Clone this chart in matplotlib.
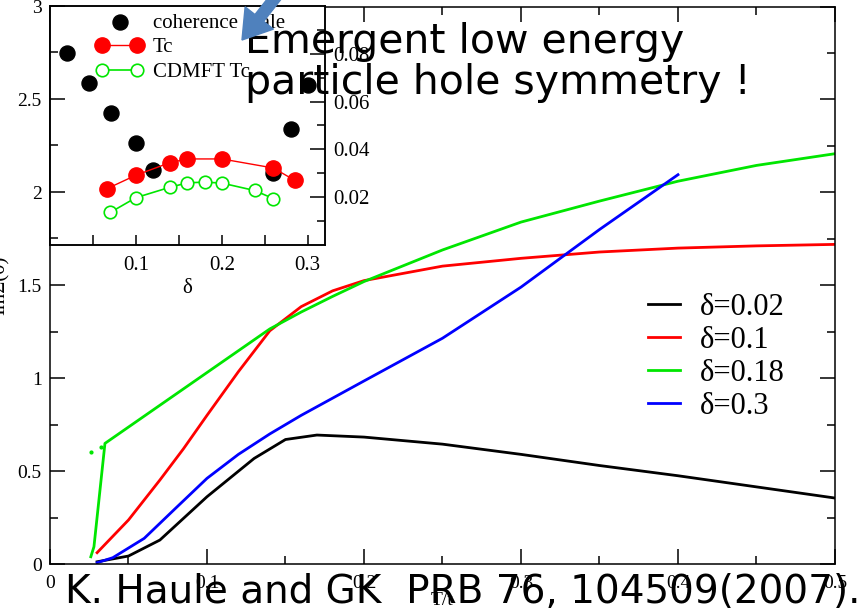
# Im Sigma(0) versus temperature for several dopings, with Tc / coherence scale inset.

import matplotlib.pyplot as plt
from matplotlib.ticker import MultipleLocator, FixedLocator, FuncFormatter
from matplotlib.patches import FancyArrow

# Main panel: ImSigma(0) vs T/t for each doping
T_002 = [0.03, 0.05, 0.07, 0.10, 0.13, 0.15, 0.17, 0.20, 0.25, 0.30, 0.35, 0.40, 0.45, 0.50]
S_002 = [0.012, 0.043, 0.129, 0.362, 0.568, 0.670, 0.694, 0.683, 0.645, 0.590, 0.530, 0.475, 0.415, 0.355]

T_01 = [0.03, 0.05, 0.07, 0.085, 0.10, 0.12, 0.14, 0.16, 0.18, 0.20, 0.25, 0.30, 0.35, 0.40, 0.45, 0.50]
S_01 = [0.061, 0.237, 0.452, 0.62, 0.80, 1.035, 1.255, 1.385, 1.47, 1.525, 1.603, 1.645, 1.679, 1.70, 1.712, 1.72]

T_018 = [0.026, 0.028, 0.035, 0.14, 0.16, 0.18, 0.20, 0.25, 0.30, 0.35, 0.40, 0.45, 0.50]
S_018 = [0.039, 0.093, 0.649, 1.265, 1.356, 1.44, 1.52, 1.69, 1.84, 1.953, 2.06, 2.145, 2.208]
T_018_dots = [0.026, 0.0323]
S_018_dots = [0.604, 0.631]

T_03 = [0.03, 0.04, 0.06, 0.08, 0.10, 0.12, 0.14, 0.16, 0.20, 0.25, 0.30, 0.35, 0.40]
S_03 = [0.007, 0.034, 0.138, 0.30, 0.461, 0.59, 0.70, 0.80, 0.985, 1.215, 1.49, 1.80, 2.095]

# Inset: coherence scale and Tc vs doping
delta_coh = [0.02, 0.045, 0.071, 0.10, 0.12, 0.26, 0.28, 0.30]
coh = [0.0802, 0.0679, 0.0553, 0.0426, 0.0312, 0.0300, 0.0485, 0.0671]

delta_tc = [0.066, 0.10, 0.14, 0.16, 0.20, 0.26, 0.285]
tc = [0.0235, 0.0292, 0.0345, 0.0360, 0.0360, 0.0322, 0.0270]

delta_cdmft = [0.07, 0.10, 0.14, 0.16, 0.18, 0.20, 0.238, 0.26]
tc_cdmft = [0.0136, 0.0198, 0.0242, 0.0260, 0.0263, 0.0259, 0.0228, 0.0194]

lime = '#00e600'

plt.rcParams['font.family'] = ['Liberation Serif', 'DejaVu Serif']

fig = plt.figure(figsize=(8.65, 6.16), dpi=100)
ax = fig.add_axes([0.0578, 0.0844, 0.9075, 0.9050])

ax.plot(T_002, S_002, color='black', lw=2, label='δ=0.02')
ax.plot(T_01, S_01, color='red', lw=2, label='δ=0.1')
ax.plot(T_018, S_018, color=lime, lw=2, label='δ=0.18')
ax.plot(T_03, S_03, color='blue', lw=2, label='δ=0.3')
ax.plot(T_018_dots, S_018_dots, ls='none', marker='o', ms=2, color=lime)

ax.set_xlim(0, 0.5)
ax.set_ylim(0, 3)
ax.xaxis.set_major_locator(MultipleLocator(0.1))
ax.xaxis.set_minor_locator(MultipleLocator(0.05))
ax.yaxis.set_major_locator(MultipleLocator(0.5))
ax.yaxis.set_minor_locator(MultipleLocator(0.25))
fmt = FuncFormatter(lambda v, p: f'{v:g}')
ax.xaxis.set_major_formatter(fmt)
ax.yaxis.set_major_formatter(fmt)
ax.tick_params(which='both', direction='in', top=True, right=True, labelsize=14, width=1.1)
ax.tick_params(which='major', length=11)
ax.tick_params(which='minor', length=6)
ax.tick_params(axis='x', pad=8)
ax.tick_params(axis='y', pad=6)
for s in ax.spines.values():
    s.set_linewidth(1.1)

ax.set_xlabel('T/t', fontsize=14)
ax.xaxis.set_label_coords(0.5, -0.05)
ax.set_ylabel('ImΣ(0)', fontsize=15)
ax.yaxis.set_label_coords(-0.051, 0.5)

ax.legend(loc='upper left', bbox_to_anchor=(648 / 865, 1 - 293 / 616),
          bbox_transform=fig.transFigure, frameon=False, fontsize=22,
          handlelength=1.05, handletextpad=0.65, labelspacing=0.13,
          borderpad=0, borderaxespad=0)

# inset, left axis follows the main y scale
ax_in = fig.add_axes([0.0578, 0.6023, 0.3179, 0.3880], facecolor='white')
ax_in.set_xlim(0, 0.32)
ax_in.set_ylim(1.715, 3.0)
ax_in.xaxis.set_major_locator(FixedLocator([0.1, 0.2, 0.3]))
ax_in.xaxis.set_minor_locator(FixedLocator([0.05, 0.15, 0.25]))
ax_in.xaxis.set_major_formatter(fmt)
ax_in.yaxis.set_major_locator(MultipleLocator(0.5))
ax_in.yaxis.set_minor_locator(MultipleLocator(0.25))
ax_in.tick_params(which='both', direction='in', labelleft=False, labelsize=15, width=1.1)
ax_in.tick_params(axis='x', which='both', length=7, pad=8)
ax_in.tick_params(axis='y', which='major', length=11)
ax_in.tick_params(axis='y', which='minor', length=6)
ax_in.set_xlabel('δ', fontsize=15, labelpad=3)
for s in ax_in.spines.values():
    s.set_linewidth(1.1)

ax_tc = ax_in.twinx()
ax_tc.set_ylim(0, 0.1)
ax_tc.yaxis.set_major_locator(FixedLocator([0.02, 0.04, 0.06, 0.08]))
ax_tc.yaxis.set_minor_locator(FixedLocator([0.01, 0.03, 0.05, 0.07, 0.09]))
ax_tc.yaxis.set_major_formatter(FuncFormatter(lambda v, p: f'{v:.2f}'))
ax_tc.tick_params(which='both', direction='in', labelsize=15, pad=6, width=1.1)
ax_tc.tick_params(which='major', length=11)
ax_tc.tick_params(which='minor', length=6)
for s in ax_tc.spines.values():
    s.set_linewidth(1.1)

ax_tc.scatter(delta_coh, coh, s=117, color='black', label='coherence scale', zorder=2)
ax_tc.plot(delta_tc, tc, color='red', lw=1, marker='o', ms=11, label='Tc', zorder=3)
ax_tc.plot(delta_cdmft, tc_cdmft, color=lime, lw=1.2, marker='o', ms=9,
           mfc='white', mec=lime, mew=1.2, label='CDMFT Tc', zorder=3)

ax_tc.legend(loc='upper left', bbox_to_anchor=(96 / 865, 1 - 13 / 616),
             bbox_transform=fig.transFigure, frameon=False, fontsize=15,
             numpoints=2, scatterpoints=1, handlelength=2.28, handletextpad=0.46,
             labelspacing=0.25, borderpad=0, borderaxespad=0)

# slide annotations
fig.text(245 / 865, 1 - 53 / 616, 'Emergent low energy', fontsize=29.5,
         family='DejaVu Sans', va='baseline')
fig.text(245 / 865, 1 - 94 / 616, 'particle hole symmetry !', fontsize=29.5,
         family='DejaVu Sans', va='baseline')
fig.text(65 / 865, 1 - 603 / 616, 'K. Haule and GK  PRB 76, 104509(2007).', fontsize=28,
         family='DejaVu Sans', va='baseline')

arrow = FancyArrow(2.86, 6.32, -0.44, -0.56, width=0.11, head_width=0.36,
                   head_length=0.28, length_includes_head=True, color='#4F81BD',
                   transform=fig.dpi_scale_trans, zorder=5)
fig.add_artist(arrow)

fig.savefig('out.png', dpi=100)
